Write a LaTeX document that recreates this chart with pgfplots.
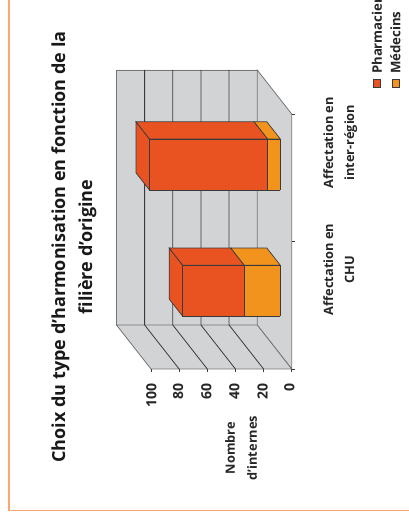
\documentclass[border=0pt]{standalone}
\usepackage{pgfplots}
\pgfplotsset{compat=1.18}
\usepackage{fontspec}
\setmainfont{Open Sans}
\definecolor{wall}{HTML}{D1D3D4}
\definecolor{phar}{HTML}{E95322}
\definecolor{med}{HTML}{F2931E}
\definecolor{frameor}{HTML}{F9A870}
\definecolor{gridc}{HTML}{3A3A3C}
\begin{document}
\begin{tikzpicture}[x=1pt,y=1pt]
\useasboundingbox (0,0) rectangle (409,524);
\draw[frameor,line width=1.4pt] (9,530) -- (9,13.3) -- (415,13.3);
\node[rotate=90,font=\bfseries\fontsize{18}{27}\selectfont,align=center,text=black!90] at (74,277) {Choix du type d’harmonisation en fonction de la\\filière d’origine};
\node[rotate=90,font=\bfseries\fontsize{12.8}{22}\selectfont,align=center,text=black!85] at (241,76) {Nombre\\d’internes};
\begin{axis}[
  anchor=origin, at={(291.7pt,155pt)},
  disabledatascaling, scale mode=none,
  x={(0pt,127.5pt)}, y={(-34.5pt,44pt)}, z={(-1.407pt,0pt)},
  xmin=0,xmax=2,ymin=0,ymax=1,zmin=0,zmax=100,
  axis line style={draw=none},
  major tick length=0pt,
  clip=false,
  xtick={0.5,1.5},
  xticklabels={{Affectation en\\CHU},{Affectation en\\inter-région}},
  ytick=\empty,
  ztick={0,20,40,60,80,100},
  zticklabels={0,20,40,60,80,100},
  zticklabel pos=right,
  tick label style={font=\bfseries\fontsize{12.8}{21}\selectfont,text=black!85},
  /pgf/number format/assume math mode=true,
  x tick label style={rotate=90,align=center,xshift=45pt,yshift=-28pt},
  z tick label style={rotate=90,xshift=-11pt,yshift=5pt,font=\bfseries\fontsize{14}{17}\selectfont},
]
% walls
\addplot3[fill=wall,draw=gridc!70,line width=.8pt] coordinates {(0,1,0)(2,1,0)(2,1,100)(0,1,100)(0,1,0)};
\addplot3[fill=wall,draw=gridc!70,line width=.8pt] coordinates {(0,0,0)(2,0,0)(2,1,0)(0,1,0)(0,0,0)};
\addplot3[fill=wall,draw=gridc!70,line width=.8pt] coordinates {(0,0,0)(0,1,0)(0,1,100)(0,0,100)(0,0,0)};
% grid
\foreach \v in {20,40,60,80} {
  \addplot3[gridc,line width=.8pt] coordinates {(2,1,\v)(0,1,\v)(0,0,\v)};
}
% ticks
\foreach \v in {0,20,40,60,80,100} {
  \addplot3[gridc,line width=.6pt] coordinates {(0,0,\v)(-0.025,0,\v)};
}
\foreach \v in {0,1,2} {
  \addplot3[gridc,line width=.6pt] coordinates {(\v,0,0)(\v,0,-2.5)};
}
% bars: CHU
\addplot3[fill=phar,draw=gridc,line width=.7pt] coordinates {(0.3,0.33,69.4)(0.3,0.72,69.4)(0.7,0.72,69.4)(0.7,0.33,69.4)(0.3,0.33,69.4)};
\addplot3[fill=phar,draw=gridc,line width=.7pt] coordinates {(0.7,0.33,25.6)(0.7,0.72,25.6)(0.7,0.72,69.4)(0.7,0.33,69.4)(0.7,0.33,25.6)};
\addplot3[fill=med,draw=gridc,line width=.7pt] coordinates {(0.7,0.33,0)(0.7,0.72,0)(0.7,0.72,25.6)(0.7,0.33,25.6)(0.7,0.33,0)};
\addplot3[fill=phar,draw=gridc,line width=.7pt] coordinates {(0.3,0.33,25.6)(0.7,0.33,25.6)(0.7,0.33,69.4)(0.3,0.33,69.4)(0.3,0.33,25.6)};
\addplot3[fill=med,draw=gridc,line width=.7pt] coordinates {(0.3,0.33,0)(0.7,0.33,0)(0.7,0.33,25.6)(0.3,0.33,25.6)(0.3,0.33,0)};
% bars: inter-region
\addplot3[fill=phar,draw=gridc,line width=.7pt] coordinates {(1.29,0.33,93)(1.29,0.72,93)(1.69,0.72,93)(1.69,0.33,93)(1.29,0.33,93)};
\addplot3[fill=phar,draw=gridc,line width=.7pt] coordinates {(1.69,0.33,9)(1.69,0.72,9)(1.69,0.72,93)(1.69,0.33,93)(1.69,0.33,9)};
\addplot3[fill=med,draw=gridc,line width=.7pt] coordinates {(1.69,0.33,0)(1.69,0.72,0)(1.69,0.72,9)(1.69,0.33,9)(1.69,0.33,0)};
\addplot3[fill=phar,draw=gridc,line width=.7pt] coordinates {(1.29,0.33,9)(1.69,0.33,9)(1.69,0.33,93)(1.29,0.33,93)(1.29,0.33,9)};
\addplot3[fill=med,draw=gridc,line width=.7pt] coordinates {(1.29,0.33,0)(1.69,0.33,0)(1.69,0.33,9)(1.29,0.33,9)(1.29,0.33,0)};
\end{axis}
\path[fill=phar,draw=gridc,line width=.4pt] (373.5,437) rectangle (380.5,444.5);
\path[fill=med,draw=gridc,line width=.4pt] (392,437) rectangle (399,444.5);
\node[rotate=90,anchor=west,font=\fontsize{13.2}{15}\selectfont\bfseries,text=black!85] at (377,446.5) {Pharmaciens};
\node[rotate=90,anchor=west,font=\fontsize{13.2}{15}\selectfont\bfseries,text=black!85] at (395.5,446.5) {Médecins};
\end{tikzpicture}
\end{document}
